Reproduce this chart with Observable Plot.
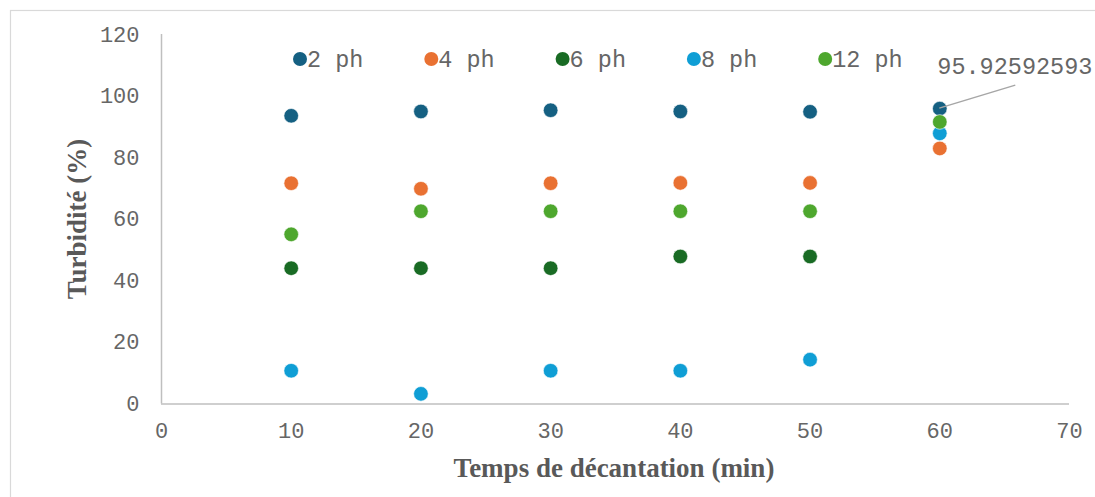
<!DOCTYPE html>
<html><head><meta charset="utf-8">
<script src="https://cdn.jsdelivr.net/npm/d3@7"></script>
<script src="https://cdn.jsdelivr.net/npm/@observablehq/plot@0.6"></script>
<style>
html,body{margin:0;padding:0;background:#fff;}
#chart{position:relative;width:1095px;height:497px;}
</style>
</head><body><div id="chart"></div>
<script>
const times = [10, 20, 30, 40, 50, 60];
const series = ["2 ph", "4 ph", "6 ph", "8 ph", "12 ph"];
const colors = ["#156082", "#E97132", "#196B24", "#0F9ED5", "#4EA72E"];
const ph2  = [93.6, 95.0, 95.4, 95.0, 94.9, 95.92592593];
const ph4  = [71.7, 69.9, 71.7, 71.8, 71.8, 83.0];
const ph6  = [44.1, 44.1, 44.1, 47.9, 47.9, null];
const ph8  = [10.8, 3.3, 10.8, 10.8, 14.4, 87.9];
const ph12 = [55.1, 62.6, 62.6, 62.6, 62.6, 91.6];
const xTicks = [0, 10, 20, 30, 40, 50, 60, 70];
const yTicks = [0, 20, 40, 60, 80, 100, 120];
const annotation = {series: "2 ph", x: 60, y: 95.92592593, label: "95.92592593"};

const values = [ph2, ph4, ph6, ph8, ph12];
const data = [];
series.forEach((s, i) => times.forEach((t, j) => {
  if (values[i][j] != null) data.push({serie: s, t, v: values[i][j]});
}));

const W = 1095, H = 497;
const plot = Plot.plot({
  width: W, height: H,
  marginLeft: 161, marginRight: 26, marginTop: 34, marginBottom: 93.5,
  style: {fontFamily: "'Liberation Mono', monospace", background: "transparent", overflow: "visible"},
  x: {domain: [0, 70], ticks: xTicks, tickSize: 0, tickPadding: 18, label: null},
  y: {domain: [0, 120], ticks: yTicks, tickSize: 0, tickPadding: 22, label: null},
  color: {domain: series, range: colors},
  marks: [
    Plot.axisX({ticks: xTicks, tickSize: 0, tickPadding: 18, fontSize: 22, fill: "#666666", label: null}),
    Plot.axisY({ticks: yTicks, tickSize: 0, tickPadding: 22, fontSize: 22, fill: "#666666", label: null}),
    Plot.ruleY([0], {stroke: "#bfbfbf", strokeWidth: 1.5}),
    Plot.ruleX([0], {stroke: "#bfbfbf", strokeWidth: 1.5}),
    Plot.dot(data, {x: "t", y: "v", fill: "serie", r: 7.3, stroke: "white", strokeWidth: 0.6})
  ]
});
const svg = d3.select(plot);

// outer border
svg.insert("rect", ":first-child").attr("x", 10.5).attr("y", 10.5).attr("width", W + 10).attr("height", H + 10)
  .attr("fill", "none").attr("stroke", "#d9d9d9").attr("stroke-width", 1.2);

const xs = plot.scale("x"), ys = plot.scale("y");

// annotation leader + label
const px = xs.apply(annotation.x), py = ys.apply(annotation.y);
svg.append("line").attr("x1", px).attr("y1", py).attr("x2", px + 76).attr("y2", py - 23)
  .attr("stroke", "#a6a6a6").attr("stroke-width", 1.5);
svg.append("text").attr("x", px - 2).attr("y", py - 34).attr("text-anchor", "start").text(annotation.label)
  .attr("font-family", "'Liberation Mono', monospace").attr("font-size", 23.5).attr("fill", "#666666");

// legend
const lg = svg.append("g");
series.forEach((s, i) => {
  const lx = 300 + i * 131.3, ly = 59;
  lg.append("circle").attr("cx", lx).attr("cy", ly).attr("r", 7).attr("fill", colors[i]);
  lg.append("text").attr("x", lx + 7).attr("y", ly).attr("dy", "0.35em").attr("text-anchor", "start").text(s)
    .attr("font-family", "'Liberation Mono', monospace").attr("font-size", 23.5).attr("fill", "#666666");
});

// axis titles
svg.append("text").attr("x", 614).attr("y", 477).attr("text-anchor", "middle")
  .text("Temps de décantation (min)")
  .attr("font-family", "'Liberation Serif', serif").attr("font-weight", "bold").attr("font-size", 27).attr("fill", "#595959");
svg.append("text").attr("transform", "translate(86,219) rotate(-90)").attr("text-anchor", "middle")
  .text("Turbidité (%)")
  .attr("font-family", "'Liberation Serif', serif").attr("font-weight", "bold").attr("font-size", 27).attr("fill", "#595959");

document.getElementById("chart").appendChild(plot);
</script></body></html>
